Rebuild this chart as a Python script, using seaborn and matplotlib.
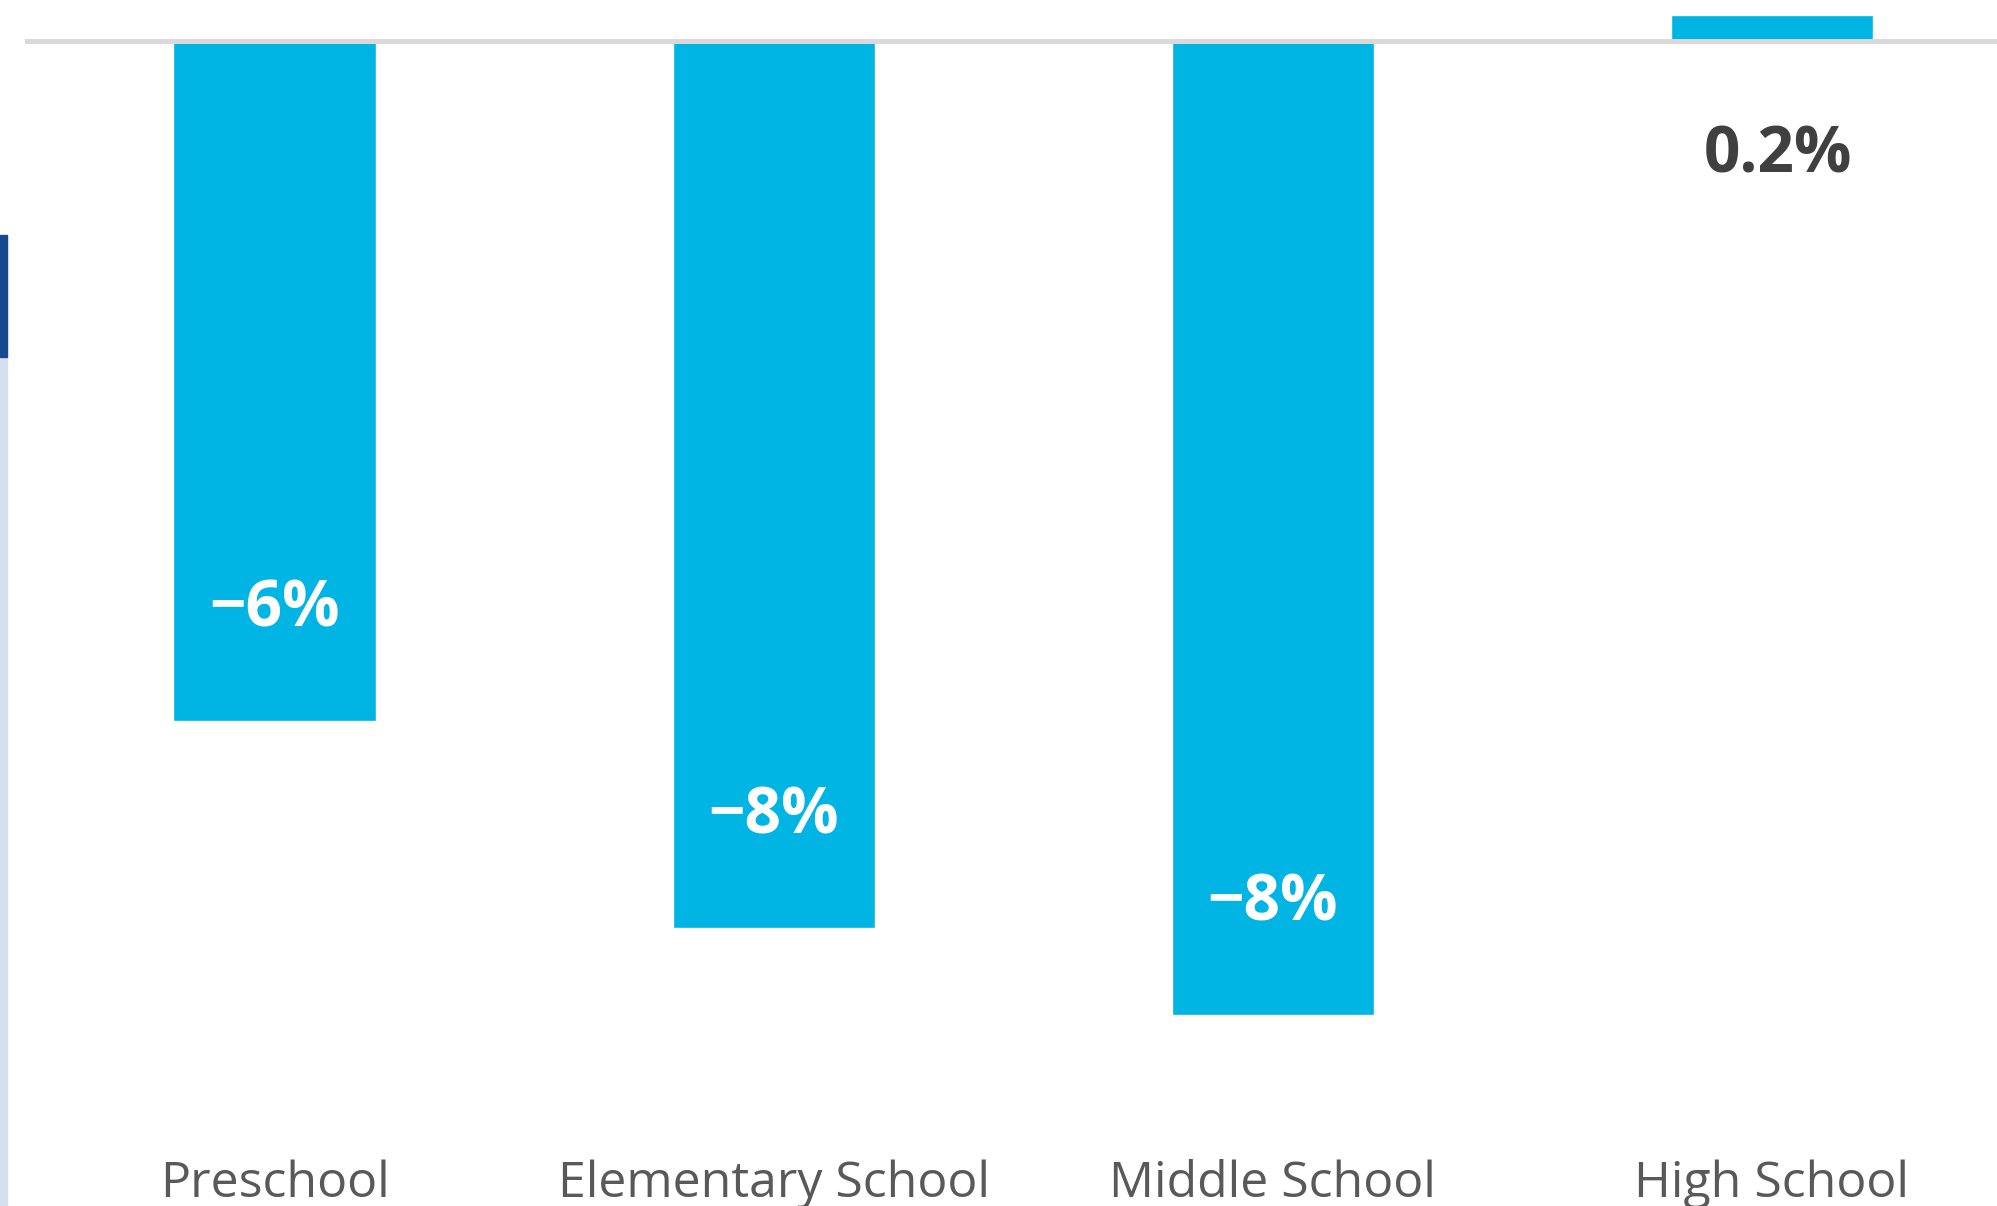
import matplotlib
matplotlib.use("Agg")
import matplotlib.pyplot as plt
from matplotlib.patches import Rectangle
import seaborn as sns

# data
categories = ["Preschool", "Elementary School", "Middle School", "High School"]
changes = [-6.0, -7.83, -8.6, 0.23]
value_labels = ["\u22126%", "\u22128%", "\u22128%", "0.2%"]

BAR_COLOR = "#00b4e4"
W, H, DPI = 1997, 1206, 100

sns.set_theme(style="white")
plt.rcParams["font.family"] = ["Open Sans", "DejaVu Sans"]

fig = plt.figure(figsize=(W / DPI, H / DPI), dpi=DPI)
ax = fig.add_axes([25 / W, 0, 1 - 25 / W, 1])

sns.barplot(x=categories, y=changes, color=BAR_COLOR, width=0.405,
            saturation=1, ax=ax, zorder=2)

# pixel geometry: zero line at y=41px, 113.3 px per percentage point
px_per_unit = 113.3
zero_px = 41
ax.set_ylim(-(H - zero_px) / px_per_unit, zero_px / px_per_unit)
ax.set_xlim(-0.5, 3.451)

ax.axhline(0, color="#d9d9d9", lw=3.6, zorder=3)

for i, (v, lab) in enumerate(zip(changes, value_labels)):
    if v < 0:
        ax.annotate(lab, (i, v), xytext=(0, 111 * 72 / DPI), textcoords="offset points",
                    ha="center", va="center", color="white", fontsize=46,
                    fontweight="bold", zorder=4)
    else:
        ax.annotate(lab, (i + 0.012, 0), xytext=(0, -115 * 72 / DPI), textcoords="offset points",
                    ha="center", va="center", color="#404040", fontsize=46,
                    fontweight="bold", zorder=4)

# category labels along the bottom
for i, cat in enumerate(categories):
    ax.text(i, -(1197 - zero_px) / px_per_unit, cat, ha="center", va="baseline",
            color="#595959", fontsize=36)

ax.set_xticks([])
ax.set_yticks([])
ax.set_xlabel("")
ax.set_ylabel("")
sns.despine(ax=ax, left=True, bottom=True)

# accent strip on the left edge
fig.patches.append(Rectangle((0, 0), 7 / W, (H - 357) / H, transform=fig.transFigure,
                             color="#d6e0ec", zorder=0))
fig.patches.append(Rectangle((0, (H - 357) / H), 7 / W, 122 / H, transform=fig.transFigure,
                             color="#154a8e", zorder=0))

fig.savefig("out.png", dpi=DPI)
plt.close(fig)
